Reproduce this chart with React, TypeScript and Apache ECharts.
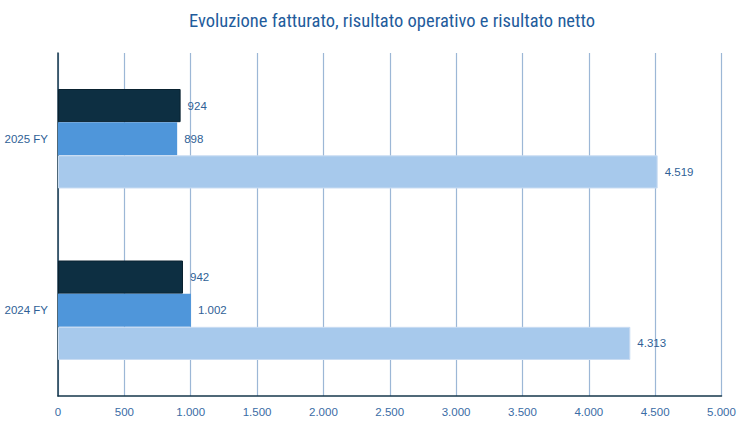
import React, { useEffect, useRef } from "react";
import * as echarts from "echarts";

const categories = ["2024 FY", "2025 FY"];
const fatturato = [4313, 4519];
const risultatoOperativo = [1002, 898];
const risultatoNetto = [942, 924];
const xTicks = [0, 500, 1000, 1500, 2000, 2500, 3000, 3500, 4000, 4500, 5000];

const fmt = (v: number) =>
  String(Math.round(v)).replace(/\B(?=(\d{3})+(?!\d))/g, ".");

export default function App() {
  const ref = useRef<HTMLDivElement>(null);
  useEffect(() => {
    document.body.style.margin = "0";
    const chart = echarts.init(ref.current!, null, { renderer: "svg" });
    const labelStyle = {
      show: true,
      position: "right" as const,
      distance: 7,
      color: "#2f5f96",
      fontSize: 11.5,
      fontFamily: "Liberation Sans, Arial, sans-serif",
      formatter: (p: any) => fmt(p.value),
    };
    chart.setOption({
      animation: false,
      backgroundColor: "#ffffff",
      title: {
        text: "Evoluzione fatturato, risultato operativo e risultato netto",
        left: 387,
        textAlign: "center",
        top: 6,
        textStyle: {
          color: "#1f5c9c",
          fontSize: 18.5,
          fontWeight: "normal",
          fontFamily: "Liberation Sans Narrow, Roboto Condensed, DejaVu Sans Condensed, sans-serif",
        },
      },
      grid: { left: 58, right: 31.5, top: 53, bottom: 27, containLabel: false },
      xAxis: {
        type: "value",
        min: xTicks[0],
        max: xTicks[xTicks.length - 1],
        interval: 500,
        axisLine: { show: true, lineStyle: { color: "#16374b", width: 1.5 } },
        axisTick: { show: false },
        splitLine: { show: true, lineStyle: { color: "#9cb7d6", width: 1.2 } },
        axisLabel: {
          color: "#3a6ca5",
          fontSize: 11.5,
          margin: 10,
          fontFamily: "Liberation Sans, Arial, sans-serif",
          formatter: (v: number) => fmt(v),
        },
      },
      yAxis: {
        type: "category",
        data: categories,
        axisLine: { show: true, lineStyle: { color: "#16374b", width: 1.5 } },
        axisTick: { show: false },
        splitLine: { show: false },
        axisLabel: {
          color: "#2f5f96",
          fontSize: 11.5,
          margin: 10,
          fontFamily: "Liberation Sans, Arial, sans-serif",
        },
      },
      series: [
        {
          name: "Risultato netto",
          type: "bar",
          data: risultatoNetto,
          barGap: "0%",
          barCategoryGap: "42%",
          itemStyle: { color: "#0d2f42", borderColor: "#0a2230", borderWidth: 1 },
          label: labelStyle,
        },
        {
          name: "Risultato operativo",
          type: "bar",
          data: risultatoOperativo,
          barGap: "0%",
          barCategoryGap: "42%",
          itemStyle: { color: "#4f96da" },
          label: labelStyle,
        },
        {
          name: "Fatturato",
          type: "bar",
          data: fatturato,
          barGap: "0%",
          barCategoryGap: "42%",
          itemStyle: { color: "#a7c9ec", borderColor: "#c9dcf2", borderWidth: 1 },
          label: labelStyle,
        },
      ],
    });
    return () => chart.dispose();
  }, []);
  return (
    <div
      ref={ref}
      style={{ position: "absolute", left: 0, top: 0, width: 753, height: 423 }}
    />
  );
}
